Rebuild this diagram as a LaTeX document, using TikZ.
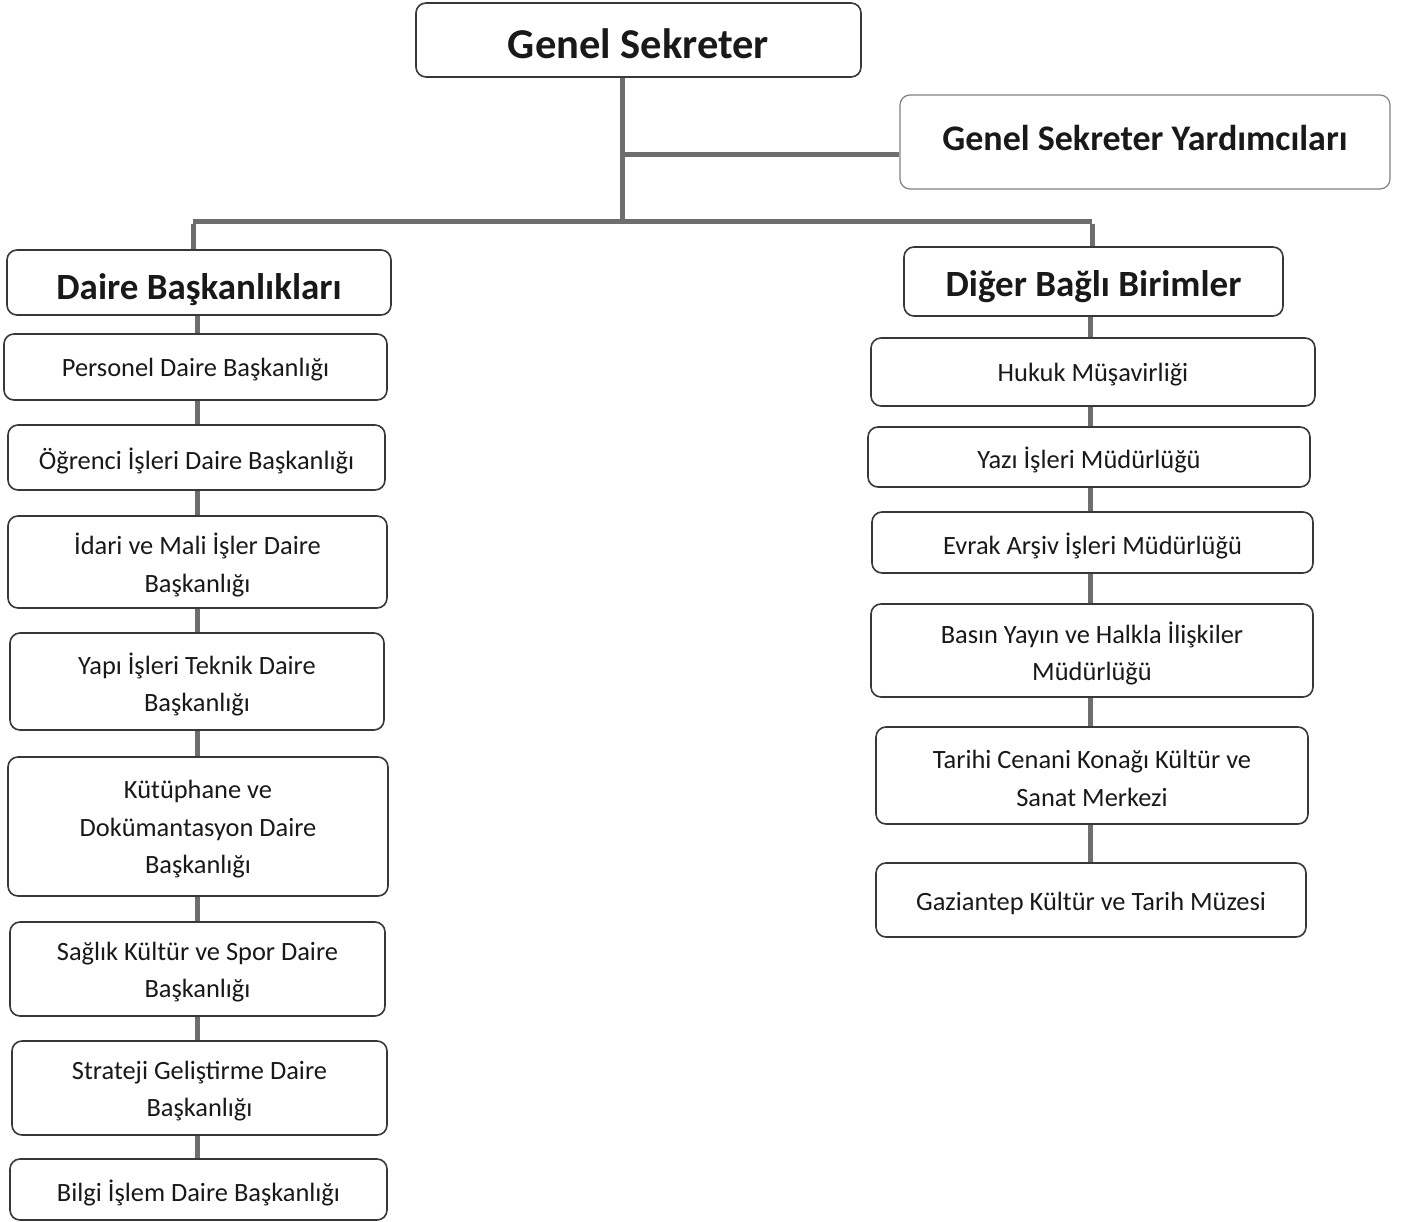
\documentclass[tikz,border=0pt]{standalone}
\usepackage{fontspec}
\setmainfont{Carlito}
\begin{document}
\begin{tikzpicture}[x=1pt,y=-1pt,
  box/.style={draw=black!78, line width=1.6pt, rounded corners=10pt, fill=white, inner sep=0pt},
  lab/.style={inner sep=0pt, align=center, text=black!90},
  hlab/.style={lab, font=\bfseries\fontsize{37}{44}\selectfont},
  ulab/.style={lab, font=\fontsize{26.4}{37.5}\selectfont, yshift=-3pt},
  head/.style={box, label={[hlab]center:{#1}}},
  unit/.style={box, label={[ulab]center:{#1}}},
  conn/.style={draw=black!57, line width=5pt}]
\useasboundingbox (0,0) rectangle (1407,1222);
\fill[white] (0,0) rectangle (1407,1222);

\coordinate (jn) at (622,222);
\coordinate (yj) at (622,155);
\coordinate (jl) at (193,222);
\coordinate (jr) at (1092,222);
\coordinate (ls) at (197,0);
\coordinate (rs) at (1090,0);

% headings
\node[box, minimum width=445pt, minimum height=74pt,
  label={[hlab, font=\bfseries\fontsize{42.5}{50}\selectfont, yshift=-4pt]center:{Genel Sekreter}}] (gs) at (638.5,40) {};
\node[box, minimum width=490pt, minimum height=94pt, draw=black!50, line width=1.2pt,
  label={[hlab, font=\bfseries\fontsize{36}{42}\selectfont, yshift=4pt]center:{Genel Sekreter Yardımcıları}}] (gsy) at (1145,142) {};
\node[box, minimum width=384pt, minimum height=65pt,
  label={[hlab, yshift=-7pt]center:{Daire Başkanlıkları}}] (db) at (199,282.5) {};
\node[box, minimum width=379pt, minimum height=69pt,
  label={[hlab, yshift=-5pt]center:{Diğer Bağlı Birimler}}] (dbb) at (1093.5,281.5) {};

% left column
\node[unit={Personel Daire Başkanlığı}, minimum width=383pt, minimum height=66pt] (l1) at (195.5,367) {};
\node[unit={Öğrenci İşleri Daire Başkanlığı}, minimum width=377pt, minimum height=65pt] (l2) at (196.5,457.5) {};
\node[unit={İdari ve Mali İşler Daire\\Başkanlığı}, minimum width=379pt, minimum height=92pt] (l3) at (197.5,562) {};
\node[unit={Yapı İşleri Teknik Daire\\Başkanlığı}, minimum width=374pt, minimum height=97pt] (l4) at (197,681.5) {};
\node[unit={Kütüphane ve\\Dokümantasyon Daire\\Başkanlığı}, minimum width=380pt, minimum height=139pt] (l5) at (198,826.5) {};
\node[unit={Sağlık Kültür ve Spor Daire\\Başkanlığı}, minimum width=375pt, minimum height=94pt] (l6) at (197.5,969) {};
\node[unit={Strateji Geliştirme Daire\\Başkanlığı}, minimum width=375pt, minimum height=94pt] (l7) at (199.5,1088) {};
\node[unit={Bilgi İşlem Daire Başkanlığı}, minimum width=377pt, minimum height=61pt] (l8) at (198.5,1189.5) {};

% right column
\node[unit={Hukuk Müşavirliği}, minimum width=444pt, minimum height=68pt] (r1) at (1093,372) {};
\node[unit={Yazı İşleri Müdürlüğü}, minimum width=442pt, minimum height=60pt] (r2) at (1089,457) {};
\node[unit={Evrak Arşiv İşleri Müdürlüğü}, minimum width=441pt, minimum height=61pt] (r3) at (1092.5,542.5) {};
\node[unit={Basın Yayın ve Halkla İlişkiler\\Müdürlüğü}, minimum width=442pt, minimum height=93pt] (r4) at (1092,650.5) {};
\node[unit={Tarihi Cenani Konağı Kültür ve\\Sanat Merkezi}, minimum width=432pt, minimum height=97pt] (r5) at (1092,775.5) {};
\node[unit={Gaziantep Kültür ve Tarih Müzesi}, minimum width=430pt, minimum height=74pt, ulab/.append style={yshift=1pt}] (r6) at (1091,900) {};

% connectors
\draw[conn] (gs.south -| jn) -- ([yshift=-2.5pt]jn);
\draw[conn] (yj) -- (gsy.west |- yj);
\draw[conn] (jl) -- (jr);
\draw[conn] ([yshift=-2.5pt]jl) -- (db.north -| jl);
\draw[conn] ([yshift=-2.5pt]jr) -- (dbb.north -| jr);
\draw[conn] (db.south -| ls) -- (l1.north -| ls);
\draw[conn] (l1.south -| ls) -- (l2.north -| ls);
\draw[conn] (l2.south -| ls) -- (l3.north -| ls);
\draw[conn] (l3.south -| ls) -- (l4.north -| ls);
\draw[conn] (l4.south -| ls) -- (l5.north -| ls);
\draw[conn] (l5.south -| ls) -- (l6.north -| ls);
\draw[conn] (l6.south -| ls) -- (l7.north -| ls);
\draw[conn] (l7.south -| ls) -- (l8.north -| ls);
\draw[conn] (dbb.south -| rs) -- (r1.north -| rs);
\draw[conn] (r1.south -| rs) -- (r2.north -| rs);
\draw[conn] (r2.south -| rs) -- (r3.north -| rs);
\draw[conn] (r3.south -| rs) -- (r4.north -| rs);
\draw[conn] (r4.south -| rs) -- (r5.north -| rs);
\draw[conn] (r5.south -| rs) -- (r6.north -| rs);
\end{tikzpicture}
\end{document}
